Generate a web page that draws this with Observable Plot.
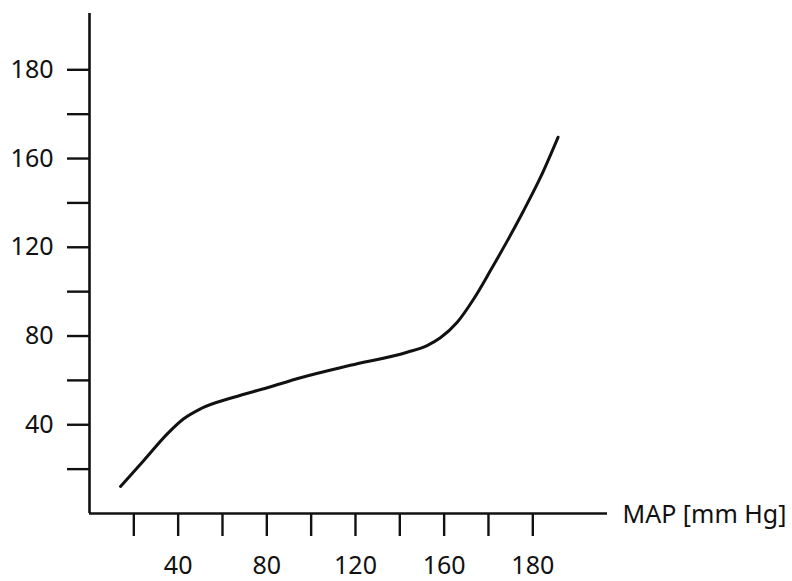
<!DOCTYPE html>
<html><head><meta charset="utf-8">
<script src="https://cdn.jsdelivr.net/npm/d3@7"></script>
<script src="https://cdn.jsdelivr.net/npm/@observablehq/plot@0.6"></script>
<style>body{margin:0;background:#fff}</style>
</head><body><div id="chart"></div>
<script>
// Curve: MAP (x) vs. response (y)
const mapValues      = [14.0, 24.5, 35.1, 42.5, 50.1, 65.1, 80.2, 95.2, 117.7, 143.3, 152.3, 158.3, 165.9, 173.4, 180.9, 195.9, 203.5, 211.4];
const responseValues = [12.2, 23.9, 35.9, 42.7, 47.2, 52.4, 56.7, 61.2, 66.8, 72.7, 75.7, 79.2, 86.2, 96.8, 109.5, 136.6, 151.6, 169.6];

// Axis ticks and their printed labels (the last tick is printed "180" in the original)
const tickValues   = [20, 40, 60, 80, 100, 120, 140, 160, 180, 200];
const labeledTicks = [40, 80, 120, 160, 200];
const tickLabels   = ["40", "80", "120", "160", "180"];
const xLabel = "MAP [mm Hg]";

const data = mapValues.map((x, i) => ({x, y: responseValues[i]}));
const labelMap = new Map(labeledTicks.map((v, i) => [v, tickLabels[i]]));
const fmt = d => labelMap.get(d) ?? "";

const chart = Plot.plot({
  width: 792,
  height: 581,
  marginLeft: 89,
  marginRight: 185,
  marginTop: 13,
  marginBottom: 68,
  style: {fontFamily: "'Noto Sans', 'Open Sans', sans-serif", fontSize: "25px", color: "#111", background: "#fff"},
  x: {domain: [0, 200], range: [89, 532.3]},
  y: {domain: [0, 200], range: [513, 69.3]},
  marks: [
    Plot.axisX({ticks: tickValues, tickFormat: fmt, tickSize: 23, tickPadding: 20, strokeWidth: 2.4, label: null, fill: "#111"}),
    Plot.axisY({ticks: tickValues, tickFormat: fmt, tickSize: 22, tickPadding: 14, strokeWidth: 2.4, label: null, fill: "#111"}),
    Plot.ruleX([0], {stroke: "#111", strokeWidth: 2.6}),
    Plot.ruleY([0], {stroke: "#111", strokeWidth: 2.6}),
    Plot.line(data, {x: "x", y: "y", curve: "monotone-x", stroke: "#111", strokeWidth: 3}),
    Plot.text([xLabel], {frameAnchor: "bottom-right", text: d => d, textAnchor: "start", lineAnchor: "middle", dx: 15, dy: 1, fill: "#111", fontSize: 25})
  ]
});
document.getElementById("chart").appendChild(chart);
</script>
</body></html>
